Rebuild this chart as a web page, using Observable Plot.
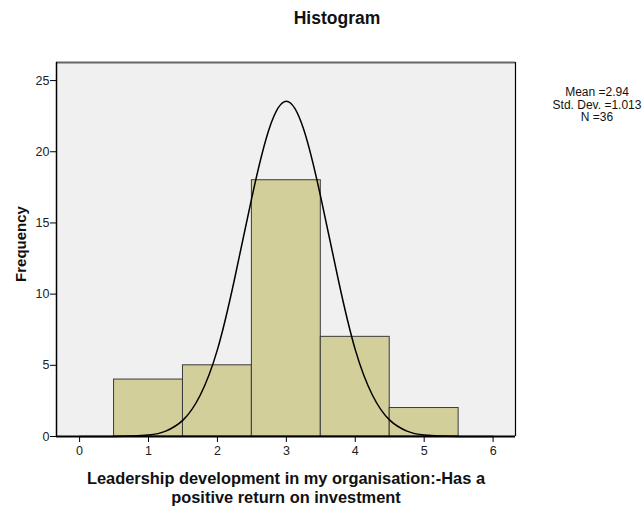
<!DOCTYPE html>
<html>
<head>
<meta charset="utf-8">
<script src="https://cdn.jsdelivr.net/npm/d3@7"></script>
<script src="https://cdn.jsdelivr.net/npm/@observablehq/plot@0.6"></script>
<style>
  html, body { margin: 0; padding: 0; background: #ffffff; }
  #chart svg { display: block; }
</style>
</head>
<body>
<div id="chart"></div>
<script>
// Histogram bins
const binStart = [0.5, 1.5, 2.5, 3.5, 4.5];
const binEnd   = [1.5, 2.5, 3.5, 4.5, 5.5];
const counts   = [4, 5, 18, 7, 2];

// Normal curve
const curveX = [0, 0.5, 1, 1.25, 1.5, 1.75, 2, 2.25, 2.5, 2.75, 3, 3.25, 3.5, 3.75, 4, 4.25, 4.5, 4.75, 5, 5.5, 6];
const curveY = [0, 0.005, 0.11, 0.38, 1.15, 2.9, 6.1, 11.1, 16.8, 21.6, 23.55, 21.6, 16.8, 11.1, 6.1, 2.9, 1.15, 0.38, 0.11, 0.005, 0];

const xTicks = [0, 1, 2, 3, 4, 5, 6];
const yTicks = [0, 5, 10, 15, 20, 25];

const title = "Histogram";
const xLabelLines = ["Leadership development in my organisation:-Has a", "positive return on investment"];
const yLabel = "Frequency";
const statLines = ["Mean =2.94", "Std. Dev. =1.013", "N =36"];

const bins = binStart.map((s, i) => ({x1: s, x2: binEnd[i], y: counts[i]}));
const curve = curveX.map((x, i) => ({x, y: curveY[i]}));

const W = 644, H = 507;
const mL = 56, mR = 129, mT = 62, mB = 71;

const chart = Plot.plot({
  width: W,
  height: H,
  marginLeft: mL,
  marginRight: mR,
  marginTop: mT,
  marginBottom: mB,
  style: {fontFamily: "'Liberation Sans', Arial, sans-serif", fontSize: "12px", color: "#222", background: "#ffffff"},
  x: {domain: [-0.335, 6.325], label: null},
  y: {domain: [0, 26.27], label: null},
  marks: [
    Plot.frame({fill: "#f0f0f0", stroke: null}),
    Plot.rectY(bins, {x1: "x1", x2: "x2", y: "y", fill: "#d3cf9a", stroke: "#3a3a3a", strokeWidth: 1}),
    Plot.line(curve, {x: "x", y: "y", curve: "natural", stroke: "#000", strokeWidth: 1.5}),
    Plot.axisX({ticks: xTicks, tickFormat: d => String(d), tickSize: 6, tickPadding: 4, stroke: "#000", fill: "#222", fontSize: 12.5, label: null}),
    Plot.axisY({ticks: yTicks, tickFormat: d => String(d), tickSize: 6, tickPadding: 1, stroke: "#000", fill: "#222", fontSize: 12.5, label: null}),
    Plot.ruleY([26.27], {stroke: "#666", strokeWidth: 2}),
    Plot.ruleX([6.325], {stroke: "#000", strokeWidth: 1.2}),
    Plot.ruleX([-0.335], {stroke: "#000", strokeWidth: 1.5}),
    Plot.ruleY([0], {stroke: "#000", strokeWidth: 2})
  ]
});

const svg = d3.select(chart);
const ff = "'Liberation Sans', Arial, sans-serif";

svg.append("text")
  .attr("x", 337).attr("y", 24)
  .attr("text-anchor", "middle")
  .attr("font-family", ff).attr("font-weight", "bold").attr("font-size", 17.5)
  .attr("fill", "#111")
  .text(title);

svg.append("text")
  .attr("transform", "translate(26,244) rotate(-90)")
  .attr("text-anchor", "middle")
  .attr("font-family", ff).attr("font-weight", "bold").attr("font-size", 15)
  .attr("fill", "#111")
  .text(yLabel);

xLabelLines.forEach((t, i) => {
  svg.append("text")
    .attr("x", 286).attr("y", 484 + i * 18.5)
    .attr("text-anchor", "middle")
    .attr("font-family", ff).attr("font-weight", "bold").attr("font-size", 16.4)
    .attr("fill", "#111")
    .text(t);
});

statLines.forEach((t, i) => {
  svg.append("text")
    .attr("x", 597).attr("y", 96 + i * 12.5)
    .attr("text-anchor", "middle")
    .attr("font-family", ff).attr("font-size", 12)
    .attr("fill", "#111")
    .text(t);
});

document.getElementById("chart").appendChild(chart);
</script>
</body>
</html>
